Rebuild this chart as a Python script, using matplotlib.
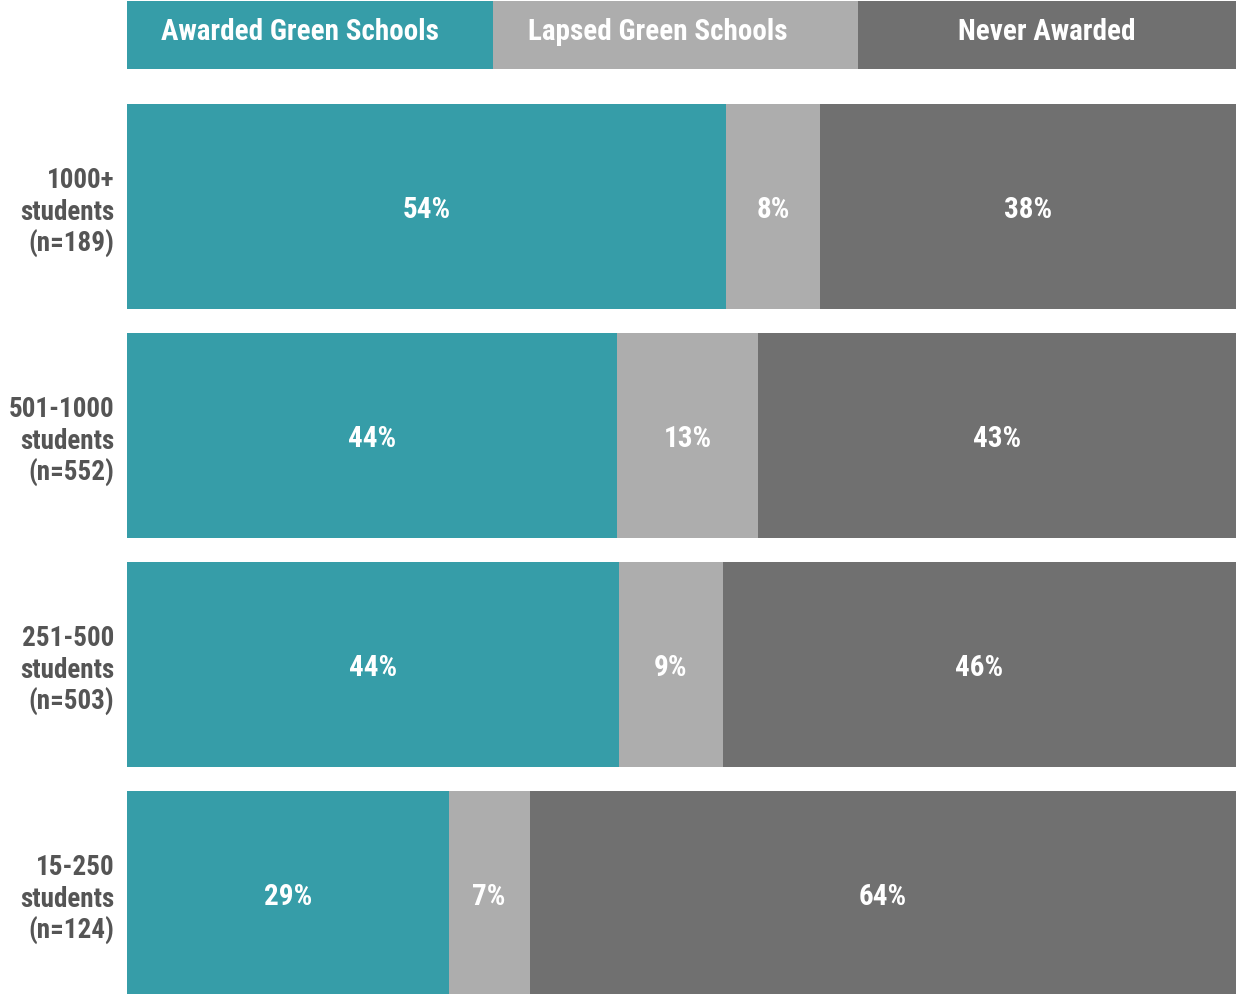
import matplotlib.pyplot as plt
import numpy as np

plt.rcParams['font.family'] = ['Roboto Condensed', 'Liberation Sans Narrow', 'DejaVu Sans']
plt.rcParams['font.weight'] = 'bold'

# data
groups = ['1000+\nstudents\n(n=189)', '501-1000\nstudents\n(n=552)',
          '251-500\nstudents\n(n=503)', '15-250\nstudents\n(n=124)']
awarded = [54.0, 44.2, 44.4, 29.0]
lapsed = [8.5, 12.7, 9.3, 7.3]
never = [37.5, 43.1, 46.3, 63.7]
lbl_awarded = ['54%', '44%', '44%', '29%']
lbl_lapsed = ['8%', '13%', '9%', '7%']
lbl_never = ['38%', '43%', '46%', '64%']

series_names = ['Awarded Green Schools', 'Lapsed Green Schools', 'Never Awarded']
legend_widths = [33.0, 32.9, 34.1]
colors = ['#369da8', '#adadad', '#707070']
name_shift = [-0.9, -1.6, 0.0]  # header labels sit a bit left of centre

W, H = 1242, 995
fig = plt.figure(figsize=(W / 100, H / 100), dpi=100)

# header strip that works as legend
left = 127 / W
width = (1236 - 127) / W
lax = fig.add_axes([left, 1 - 70 / H, width, 68 / H])
start = 0
for name, w, c, d in zip(series_names, legend_widths, colors, name_shift):
    lax.barh(0, w, left=start, height=1, color=c, edgecolor='none')
    lax.text(start + w / 2 + d, 0.06, name, ha='center', va='center',
             color='white', fontsize=21)
    start += w
lax.set_xlim(0, 100)
lax.set_ylim(-0.5, 0.5)
lax.axis('off')

# main stacked bars
ax = fig.add_axes([left, 0, width, 1 - 105 / H])
y = np.arange(len(groups))
h = 205 / 229
base = np.zeros(len(groups))
for vals, labels, c in zip([awarded, lapsed, never], [lbl_awarded, lbl_lapsed, lbl_never], colors):
    vals = np.array(vals)
    ax.barh(y, vals, left=base, height=h, color=c, edgecolor='none')
    for yi, b, v, t in zip(y, base, vals, labels):
        ax.text(b + v / 2, yi, t, ha='center', va='center_baseline',
                color='white', fontsize=21)
    base += vals

ax.set_xlim(0, 100)
ax.set_ylim(3 + (995 - 894.5) / 229, -h / 2)
ax.set_yticks(y)
ax.set_yticklabels(groups, fontsize=19.5, color='#555555', linespacing=1.2)
ax.tick_params(axis='y', length=0, pad=9)
ax.set_xticks([])
for s in ax.spines.values():
    s.set_visible(False)

fig.savefig('out.png', dpi=100)
